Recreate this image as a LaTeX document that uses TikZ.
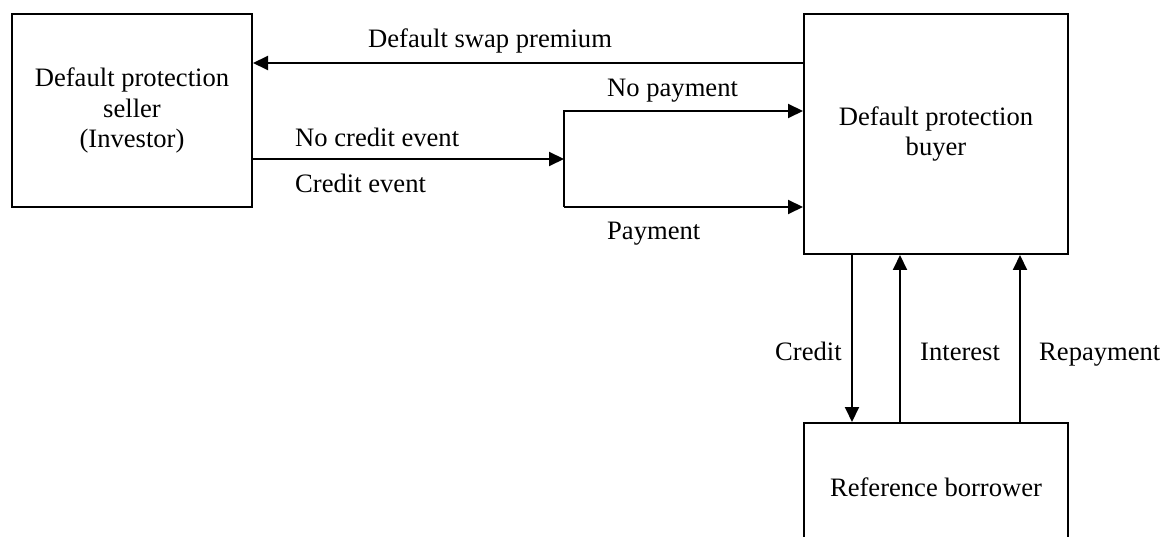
\documentclass[tikz,border=0pt]{standalone}
\usepackage{fontspec}
\setmainfont{Liberation Serif}
\usetikzlibrary{arrows.meta}
\begin{document}
\begin{tikzpicture}[x=1pt,y=-1pt,
  every node/.style={font=\fontsize{26.6}{30.6}\selectfont},
  party/.style={draw,line width=2pt,align=center,inner sep=0pt},
  lbl/.style={anchor=base west,inner sep=0pt},
  flow/.style={line width=2pt,-{Triangle[length=15pt,width=14pt]}},
  wire/.style={line width=2pt}]
\clip (0,0) rectangle (1165,537);
\useasboundingbox (0,0) rectangle (1165,537);
% parties
\node[party,minimum width=240pt,minimum height=193pt] (seller) at (132,110.5)
  {Default protection\\seller\\(Investor)};
\node[party,minimum width=264pt,minimum height=240pt] (buyer) at (936,134)
  {Default protection\\buyer};
\node[party,minimum width=264pt,minimum height=128pt] (ref) at (936,487)
  {Reference borrower};
% branch point for the credit-event outcomes
\coordinate (fork) at (564,159);
\coordinate (forkT) at (564,111);
\coordinate (forkB) at (564,207);
% premium
\draw[flow] (buyer.west |- 0,63) -- (seller.east |- 0,63);
\node[lbl] (premium) at (368,48) {Default swap premium};
% credit event branch
\draw[flow] (seller.east |- fork) -- (fork);
\draw[flow] (forkB) -- (forkT) -- (buyer.west |- forkT);
\draw[flow] (forkB) -- (buyer.west |- forkB);
\node[lbl] (nce) at (295,147) {No credit event};
\node[lbl] (ce) at (295,193) {Credit event};
\node[lbl] (np) at (607,97) {No payment};
\node[lbl] (pay) at (607,240) {Payment};
% loan flows
\draw[flow] (buyer.south -| 852,0) -- (ref.north -| 852,0);
\draw[flow] (ref.north -| 900,0) -- (buyer.south -| 900,0);
\draw[flow] (ref.north -| 1020,0) -- (buyer.south -| 1020,0);
\node[lbl] (credit) at (775,361) {Credit};
\node[lbl] (interest) at (920,361) {Interest};
\node[lbl] (repay) at (1039,361) {Repayment};
\end{tikzpicture}
\end{document}
